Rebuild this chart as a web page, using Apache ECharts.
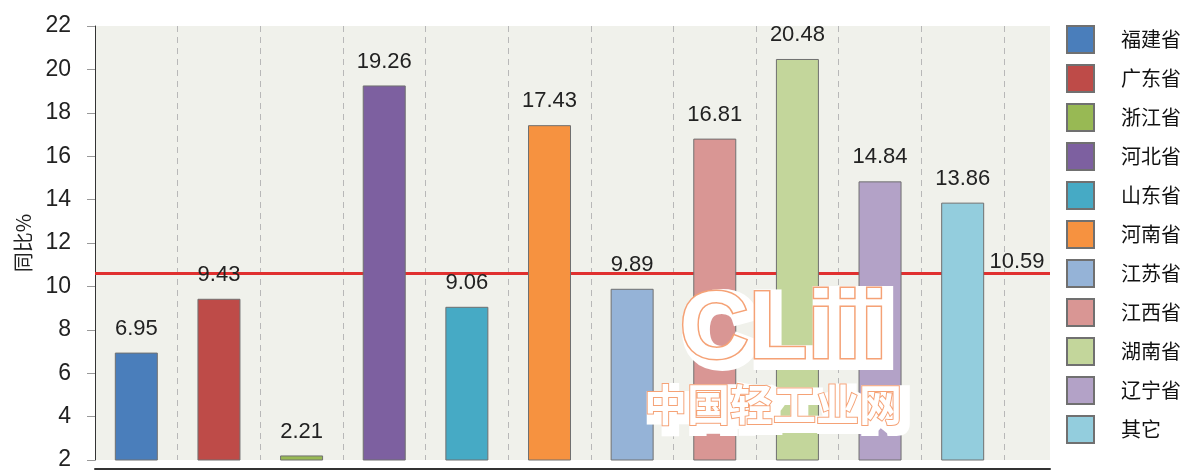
<!DOCTYPE html>
<html>
<head>
<meta charset="utf-8">
<script src="https://cdn.jsdelivr.net/npm/echarts@6/dist/echarts.min.js"></script>
<style>
  html, body { margin: 0; padding: 0; background: #fff; }
  #chart { width: 1186px; height: 472px; }
</style>
</head>
<body>
<div id="chart"></div>
<script>
// provinces and growth rate (同比%)
var provinces = ['福建省', '广东省', '浙江省', '河北省', '山东省', '河南省', '江苏省', '江西省', '湖南省', '辽宁省', '其它'];
var values = [6.95, 9.43, 2.21, 19.26, 9.06, 17.43, 9.89, 16.81, 20.48, 14.84, 13.86];
var colors = ['#4a7ebb', '#be4b48', '#98b954', '#7d60a0', '#46aac5', '#f69240', '#95b3d7', '#d99694', '#c3d69b', '#b3a2c7', '#93cddd'];
var average = 10.59;

var chart = echarts.init(document.getElementById('chart'));

var series = [];

// red average line, drawn behind the bars
series.push({
    type: 'line',
    xAxisIndex: 0,
    yAxisIndex: 0,
    z: 1,
    symbol: 'circle',
    symbolSize: 0,
    silent: true,
    lineStyle: { color: '#e0302f', width: 3 },
    itemStyle: { color: '#e0302f' },
    data: [
        [0, average],
        { value: [1, average], label: {
            show: true, position: 'top', offset: [-33, 4],
            fontSize: 22, fontFamily: 'Liberation Sans', color: '#222'
        } }
    ]
});

provinces.forEach(function (name, i) {
    var d = provinces.map(function (p, j) { return j === i ? values[i] : '-'; });
    series.push({
        name: name,
        type: 'bar',
        xAxisIndex: 1,
        yAxisIndex: 1,
        stack: 'all',
        z: 2,
        barWidth: 43,
        itemStyle: { color: colors[i], borderColor: '#707070', borderWidth: 1 },
        label: {
            show: true, position: 'top', distance: 13,
            fontSize: 22, fontFamily: 'Liberation Sans', color: '#222'
        },
        data: d
    });
});

var option = {
    animation: false,
    backgroundColor: '#fff',
    grid: [
        { left: 95, right: 136, top: 26, bottom: 12, show: true, backgroundColor: '#f0f1eb', borderWidth: 0 },
        { left: 95, right: 182, top: 26, bottom: 12 }
    ],
    xAxis: [
        {
            type: 'value', gridIndex: 0, min: 0, max: 1, offset: 9,
            axisLine: { show: true, lineStyle: { color: '#333', width: 2 } },
            axisTick: { show: false }, axisLabel: { show: false }, splitLine: { show: false }
        },
        {
            type: 'category', gridIndex: 1, data: provinces,
            axisLine: { show: false }, axisTick: { show: false }, axisLabel: { show: false },
            splitLine: { show: true, interval: 0, lineStyle: { color: '#b8b8b8', type: [6, 5], width: 1 } }
        }
    ],
    yAxis: [
        {
            type: 'value', gridIndex: 0, min: 2, max: 22, interval: 2, offset: 12,
            name: '同比%', nameLocation: 'middle', nameGap: 50,
            nameTextStyle: { fontSize: 20, color: '#222', fontFamily: 'Noto Sans CJK SC' },
            axisLine: { show: true, lineStyle: { color: '#333', width: 1 } },
            axisTick: { show: true, length: 8, lineStyle: { color: '#999' } },
            axisLabel: { fontSize: 23, color: '#222', fontFamily: 'Liberation Sans', margin: 12 },
            splitLine: { show: false }
        },
        {
            type: 'value', gridIndex: 1, min: 2, max: 22, interval: 2, show: false
        }
    ],
    legend: {
        orient: 'vertical',
        left: 1066,
        top: 25,
        padding: 0,
        itemWidth: 27,
        itemHeight: 27,
        itemGap: 10,
        icon: 'rect',
        data: provinces,
        textStyle: { fontSize: 20, color: '#111', fontFamily: 'Noto Sans CJK SC', padding: [0, 0, 0, 22] }
    },
    graphic: [
        {
            type: 'text', left: 678, top: 282, z: 100, silent: true,
            style: {
                text: 'CLiii', font: 'bold 96px "Liberation Sans"',
                fill: '#fff', stroke: '#fff', lineWidth: 14
            }
        },
        {
            type: 'text', left: 678, top: 282, z: 101, silent: true,
            style: {
                text: 'CLiii', font: 'bold 96px "Liberation Sans"',
                fill: '#fff', stroke: '#f5a276', lineWidth: 3
            }
        },
        {
            type: 'text', left: 643, top: 382, z: 100, silent: true,
            style: {
                text: '中国轻工业网', font: 'bold 43px "Noto Sans CJK SC"',
                fill: '#fff', stroke: '#fff', lineWidth: 12
            }
        },
        {
            type: 'text', left: 643, top: 382, z: 101, silent: true,
            style: {
                text: '中国轻工业网', font: 'bold 43px "Noto Sans CJK SC"',
                fill: '#fff', stroke: '#f5a276', lineWidth: 2
            }
        }
    ],
    series: series
};

chart.setOption(option);
</script>
</body>
</html>
